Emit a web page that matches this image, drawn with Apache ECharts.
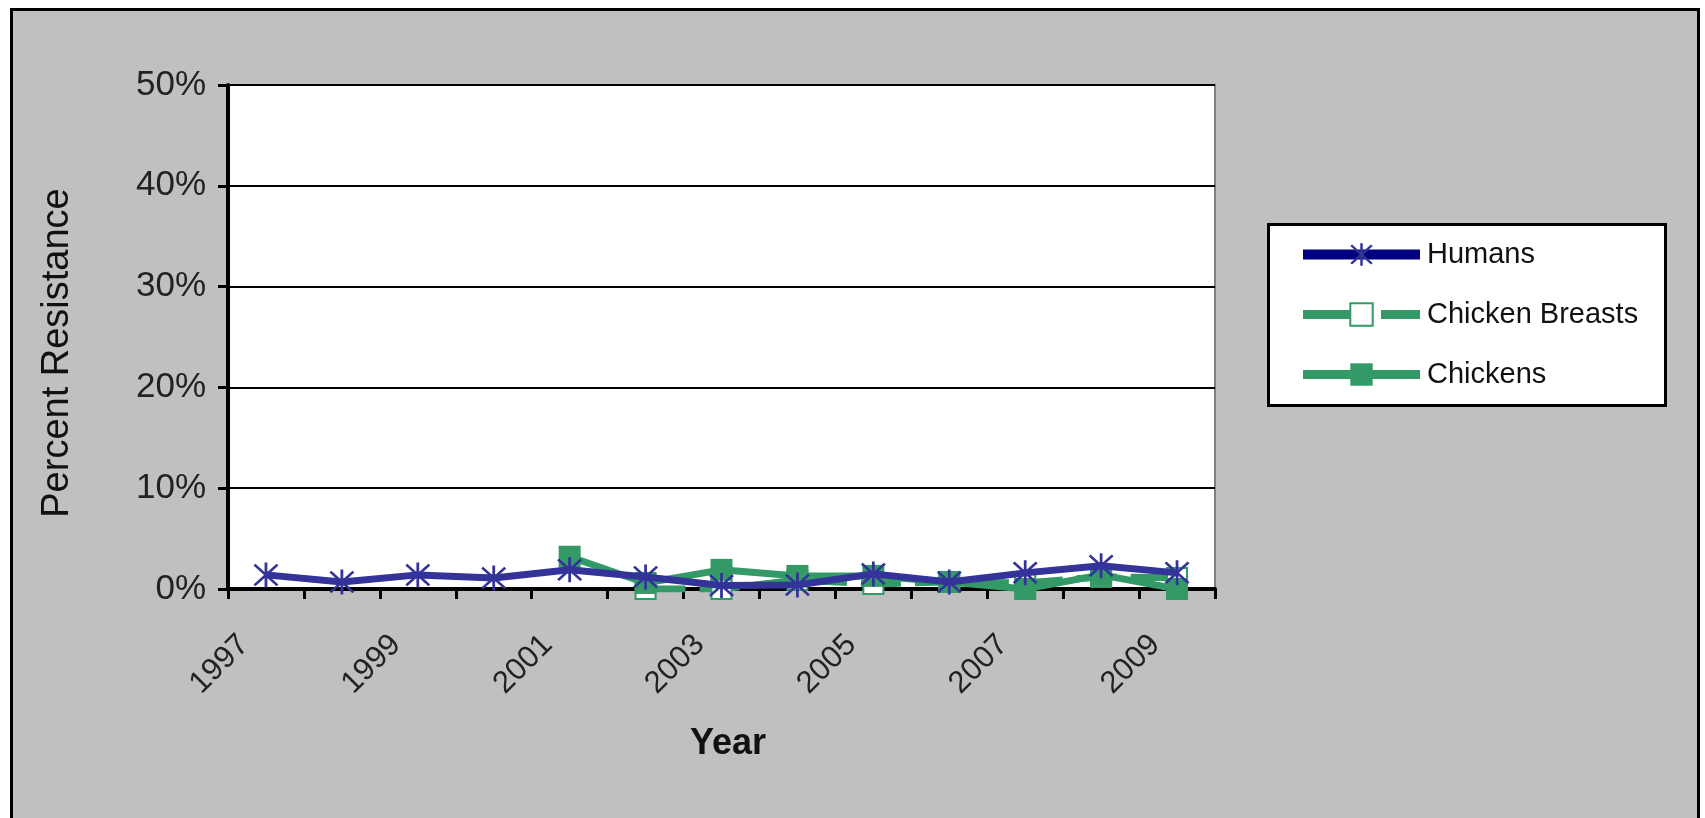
<!DOCTYPE html>
<html>
<head>
<meta charset="utf-8">
<script src="https://cdn.jsdelivr.net/npm/echarts@6/dist/echarts.min.js"></script>
<style>
  html, body { margin: 0; padding: 0; background: #ffffff; }
  #chart { width: 1705px; height: 818px; }
</style>
</head>
<body>
<div id="chart"></div>
<script>
// Years on the category axis
const years = ['1997', '1998', '1999', '2000', '2001', '2002', '2003',
               '2004', '2005', '2006', '2007', '2008', '2009'];

// Percent resistance by source (null = not sampled that year)
const humans         = [1.4, 0.7, 1.4, 1.1, 1.9, 1.2, 0.35, 0.4, 1.5, 0.7, 1.6, 2.3, 1.6];
const chickenBreasts = [null, null, null, null, null, 0, 0, 0.9, 0.5, 0.7, 0.6, 1.2, 1.1];
const chickens       = [null, null, null, null, 3.2, 0.6, 1.9, 1.3, 1.3, 0.7, 0, 1.4, 0];

// Y axis ticks (percent)
const yMin = 0, yMax = 50, yStep = 10;

const font = '"Liberation Sans", Arial, sans-serif';
const navy = '#333399';
const green = '#339966';

// Asterisk marker: vertical bar crossed by two diagonals
const asterisk = 'path://M45 0 L55 0 L55 100 L45 100 Z M5 12 L12 5 L95 88 L88 95 Z M88 5 L95 12 L12 95 L5 88 Z';

const chart = echarts.init(document.getElementById('chart'));

chart.setOption({
  animation: false,
  backgroundColor: '#ffffff',
  graphic: [
    { // chart area
      type: 'rect', z: -10, silent: true,
      shape: { x: 11.5, y: 9.5, width: 1687, height: 830 },
      style: { fill: '#c0c0c0', stroke: '#000000', lineWidth: 3 }
    },
    { // plot area
      type: 'rect', z: -5, silent: true,
      shape: { x: 228, y: 85, width: 987, height: 504 },
      style: { fill: '#ffffff', stroke: '#808080', lineWidth: 2 }
    },
    { // legend box
      type: 'rect', z: -5, silent: true,
      shape: { x: 1268.5, y: 224.5, width: 397, height: 181 },
      style: { fill: '#ffffff', stroke: '#000000', lineWidth: 3 }
    },
    {
      type: 'text', silent: true,
      x: 58, y: 353, rotation: Math.PI / 2,
      style: {
        text: 'Percent Resistance', font: '38px ' + font, fill: '#111111',
        align: 'center', verticalAlign: 'middle'
      }
    },
    {
      type: 'text', silent: true,
      x: 728, y: 744,
      style: {
        text: 'Year', font: 'bold 36px ' + font, fill: '#111111',
        align: 'center', verticalAlign: 'middle'
      }
    }
  ],
  grid: { left: 228, right: 490, top: 85, bottom: 229, containLabel: false },
  legend: {
    orient: 'vertical',
    left: 1298, top: 240,
    itemWidth: 117, itemHeight: 28, itemGap: 31,
    padding: 0,
    textStyle: { fontFamily: font, fontSize: 29, color: '#111111', padding: [0, 0, 0, 2] },
    data: [
      { name: 'Humans', lineStyle: { color: '#000080', width: 10 }, itemStyle: { color: '#333399' } },
      { name: 'Chicken Breasts', lineStyle: { width: 9, type: [62, 16] } },
      { name: 'Chickens', lineStyle: { width: 9 } }
    ]
  },
  xAxis: {
    type: 'category',
    data: years,
    boundaryGap: true,
    axisLine: { lineStyle: { color: '#000000', width: 4 } },
    axisTick: { show: true, interval: 0, length: 10, lineStyle: { color: '#000000', width: 3 } },
    axisLabel: {
      interval: 1, rotate: 45, margin: 29, padding: [0, 31, 0, 0],
      fontFamily: font, fontSize: 31, color: '#222222'
    },
    splitLine: { show: false }
  },
  yAxis: {
    type: 'value',
    min: yMin, max: yMax, interval: yStep,
    axisLine: { show: true, lineStyle: { color: '#000000', width: 4 } },
    axisTick: { show: true, length: 10, lineStyle: { color: '#000000', width: 3 } },
    axisLabel: {
      formatter: '{value}%', margin: 22,
      fontFamily: font, fontSize: 35, color: '#222222'
    },
    splitLine: { show: true, lineStyle: { color: '#000000', width: 2 } }
  },
  series: [
    {
      name: 'Chicken Breasts', type: 'line', data: chickenBreasts, z: 2,
      symbol: 'emptyRect', symbolSize: 20,
      lineStyle: { color: green, width: 7, type: [40, 14] },
      itemStyle: { color: green, borderColor: green, borderWidth: 3 }
    },
    {
      name: 'Chickens', type: 'line', data: chickens, z: 3,
      symbol: 'rect', symbolSize: 22,
      lineStyle: { color: green, width: 7 },
      itemStyle: { color: green }
    },
    {
      name: 'Humans', type: 'line', data: humans, z: 4,
      symbol: asterisk, symbolSize: 25,
      lineStyle: { color: navy, width: 7 },
      itemStyle: { color: navy }
    }
  ]
});
</script>
</body>
</html>
